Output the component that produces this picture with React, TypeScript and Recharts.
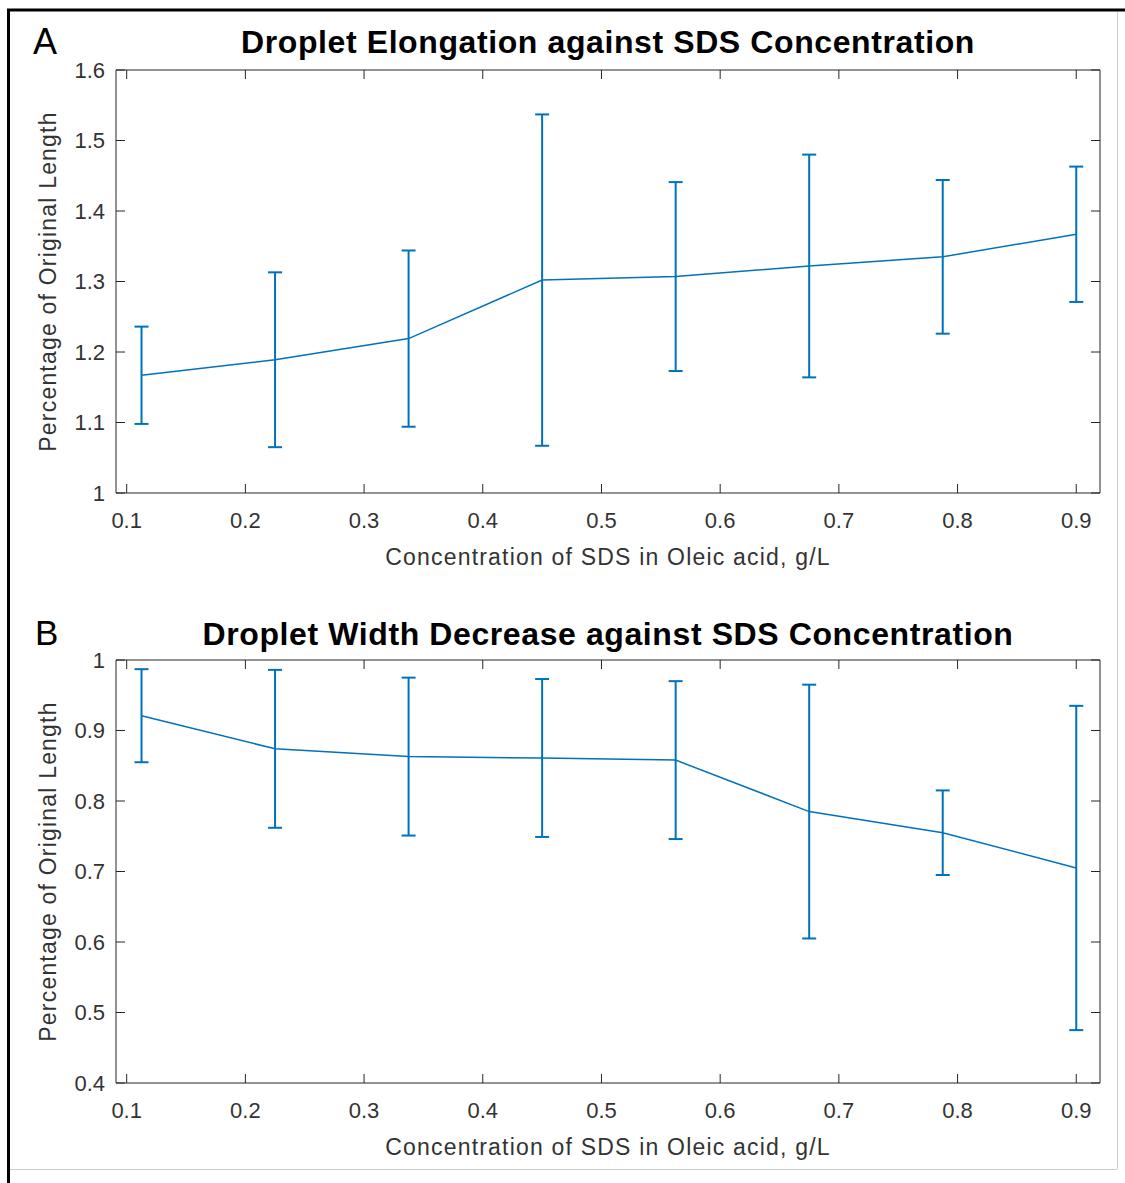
import { LineChart, Line, XAxis, YAxis, ErrorBar } from 'recharts';

// concentration of SDS (g/L) and the measured droplet ratios with their error half-widths
const concentration = [0.1125, 0.225, 0.3375, 0.45, 0.5625, 0.675, 0.7875, 0.9];
const elongationMean = [1.167, 1.189, 1.219, 1.302, 1.307, 1.322, 1.335, 1.367];
const elongationErr = [0.069, 0.124, 0.125, 0.235, 0.134, 0.158, 0.109, 0.096];
const widthMean = [0.921, 0.874, 0.863, 0.861, 0.858, 0.785, 0.755, 0.705];
const widthErr = [0.066, 0.112, 0.112, 0.112, 0.112, 0.18, 0.06, 0.23];

const xTicks = [0.1, 0.2, 0.3, 0.4, 0.5, 0.6, 0.7, 0.8, 0.9];
const elongationTicks = [1, 1.1, 1.2, 1.3, 1.4, 1.5, 1.6];
const widthTicks = [0.4, 0.5, 0.6, 0.7, 0.8, 0.9, 1];

const titleA = 'Droplet Elongation against SDS Concentration';
const titleB = 'Droplet Width Decrease against SDS Concentration';
const xLabel = 'Concentration of SDS in Oleic acid, g/L';
const yLabel = 'Percentage of Original Length';

const FONT = '"Liberation Sans", Arial, Helvetica, sans-serif';
const AXIS = '#262626';
const TEXT = '#333333';
const BLUE = '#0072BD';
const X_DOMAIN = [0.091, 0.92];

const tickStyle = { fontSize: 22, fill: TEXT, fontFamily: FONT };
const labelStyle = { fontSize: 23, fill: TEXT, fontFamily: FONT, letterSpacing: 1.2, textAnchor: 'middle' as const };

function Panel({ top, height, bottom, mean, err, yTicks }: any) {
  const data = concentration.map((c, i) => ({ c, mean: mean[i], err: err[i] }));
  const yDomain = [yTicks[0], yTicks[yTicks.length - 1]];
  return (
    <div style={{ position: 'absolute', left: 0, top }}>
      <LineChart width={1125} height={height} data={data} margin={{ top: 69, right: 24, bottom, left: 36 }}>
        <XAxis
          dataKey="c" type="number" domain={X_DOMAIN} ticks={xTicks} allowDataOverflow interval={0}
          stroke={AXIS} tickSize={-9} tickMargin={28} height={80} tick={tickStyle}
          label={{ value: xLabel, position: 'insideBottom', offset: 8, style: labelStyle }}
        />
        <XAxis
          xAxisId="top" orientation="top" dataKey="c" type="number" domain={X_DOMAIN} ticks={xTicks}
          allowDataOverflow interval={0} height={1} stroke={AXIS} tickSize={-9} tickFormatter={() => ''}
        />
        <YAxis
          type="number" domain={yDomain} ticks={yTicks} allowDataOverflow interval={0} width={80}
          stroke={AXIS} tickSize={-9} tickMargin={20} tick={tickStyle}
          label={{ value: yLabel, angle: -90, position: 'insideLeft', offset: 12, style: labelStyle }}
        />
        <YAxis
          yAxisId="right" orientation="right" type="number" domain={yDomain} ticks={yTicks}
          allowDataOverflow interval={0} width={1} stroke={AXIS} tickSize={-9} tickFormatter={() => ''}
        />
        <Line type="linear" dataKey="mean" stroke={BLUE} strokeWidth={1.5} dot={false} isAnimationActive={false}>
          <ErrorBar dataKey="err" width={7} stroke={BLUE} strokeWidth={2} direction="y" isAnimationActive={false} />
        </Line>
      </LineChart>
    </div>
  );
}

export default function App() {
  return (
    <div style={{ position: 'absolute', left: 0, top: 0, width: 1125, height: 1183, overflow: 'hidden', background: '#fff' }}>
      <Panel top={0} height={590} bottom={17} mean={elongationMean} err={elongationErr} yTicks={elongationTicks} />
      <Panel top={590} height={593} bottom={20} mean={widthMean} err={widthErr} yTicks={widthTicks} />
      <svg width={1125} height={1183} style={{ position: 'absolute', left: 0, top: 0, pointerEvents: 'none' }}>
        <line x1={8.5} y1={9} x2={8.5} y2={1183} stroke="#000" strokeWidth={3} />
        <line x1={7} y1={10} x2={1125} y2={10} stroke="#000" strokeWidth={3} />
        <line x1={1117.5} y1={12} x2={1117.5} y2={1169} stroke="#cccccc" strokeWidth={1} />
        <line x1={10} y1={1169.5} x2={1117} y2={1169.5} stroke="#cccccc" strokeWidth={1} />
        <text x={33} y={54} fontSize={36} fontFamily={FONT} fill="#000">A</text>
        <text x={35} y={645} fontSize={35} fontFamily={FONT} fill="#000">B</text>
        <text x={608} y={53} textAnchor="middle" fontSize={32} fontWeight="bold" fontFamily={FONT} letterSpacing={0.6} fill="#000">{titleA}</text>
        <text x={608} y={645} textAnchor="middle" fontSize={32} fontWeight="bold" fontFamily={FONT} letterSpacing={0.6} fill="#000">{titleB}</text>
      </svg>
    </div>
  );
}
